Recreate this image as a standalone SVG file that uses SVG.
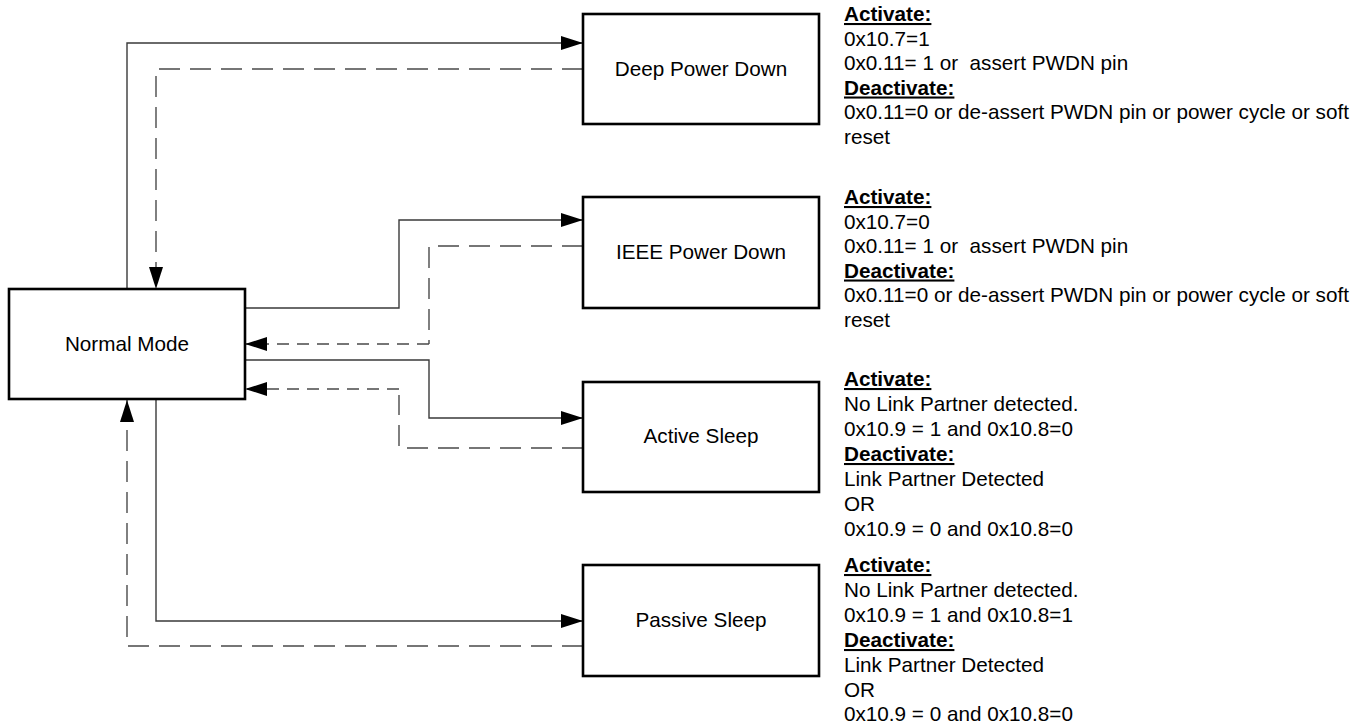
<svg xmlns="http://www.w3.org/2000/svg" width="1369" height="727" viewBox="0 0 1369 727">
  <style>
    .box { fill: #ffffff; stroke: #000000; stroke-width: 2.6; }
    .lbl { font-family: "Liberation Sans", Arial, sans-serif; font-size: 20.7px; fill: #000000; text-anchor: middle; }
    .note { font-family: "Liberation Sans", Arial, sans-serif; font-size: 20.7px; fill: #000000; }
    .hd { font-weight: bold; text-decoration: underline; }
    .solid { fill: none; stroke: #3a3a3a; stroke-width: 1.4; }
    .dash { fill: none; stroke: #4a4a4a; stroke-width: 1.4; stroke-dasharray: 21 10; }
    .dashs { fill: none; stroke: #4a4a4a; stroke-width: 1.4; stroke-dasharray: 12 8; }
  </style>
  <defs>
    <marker id="arr" markerUnits="userSpaceOnUse" markerWidth="22" markerHeight="14" refX="22" refY="7" orient="auto">
      <path d="M0,0 L22,7 L0,14 Z" fill="#000000"/>
    </marker>
  </defs>
  <rect width="1369" height="727" fill="#ffffff"/>

  <g id="connectors">
    <!-- Normal -> Deep Power Down -->
    <path class="solid" d="M127,289 V43 H583" marker-end="url(#arr)"/>
    <!-- Deep Power Down -> Normal -->
    <path class="dash" d="M583,69 H156 V289" marker-end="url(#arr)"/>
    <!-- Normal -> IEEE Power Down -->
    <path class="solid" d="M245,308 H399 V220 H583" marker-end="url(#arr)"/>
    <!-- IEEE Power Down -> Normal -->
    <path class="dash" d="M583,246 H429 V344"/>
    <path class="dashs" d="M429,344 H245" marker-end="url(#arr)"/>
    <!-- Normal -> Active Sleep -->
    <path class="solid" d="M245,360 H429 V418 H583" marker-end="url(#arr)"/>
    <!-- Active Sleep -> Normal -->
    <path class="dash" d="M583,448 H399 V395"/>
    <path class="dashs" d="M399,389 H245" marker-end="url(#arr)"/>
    <!-- Normal -> Passive Sleep -->
    <path class="solid" d="M156,400 V621 H583" marker-end="url(#arr)"/>
    <!-- Passive Sleep -> Normal -->
    <path class="dash" d="M583,646 H127 V400" marker-end="url(#arr)"/>
  </g>

  <g id="normal-mode">
    <rect class="box" x="9" y="289" width="236" height="110"/>
    <text class="lbl" x="127" y="351">Normal Mode</text>
  </g>
  <g id="deep-power-down">
    <rect class="box" x="583" y="14" width="236" height="110"/>
    <text class="lbl" x="701" y="76">Deep Power Down</text>
  </g>
  <g id="ieee-power-down">
    <rect class="box" x="583" y="197" width="236" height="111"/>
    <text class="lbl" x="701" y="259">IEEE Power Down</text>
  </g>
  <g id="active-sleep">
    <rect class="box" x="583" y="382" width="236" height="110"/>
    <text class="lbl" x="701" y="443">Active Sleep</text>
  </g>
  <g id="passive-sleep">
    <rect class="box" x="583" y="565" width="236" height="111"/>
    <text class="lbl" x="701" y="627">Passive Sleep</text>
  </g>

  <g id="deep-notes">
    <text class="note">
      <tspan class="hd" x="844" y="21">Activate:</tspan>
      <tspan x="844" y="45.5">0x10.7=1</tspan>
      <tspan x="844" y="70" xml:space="preserve">0x0.11= 1 or  assert PWDN pin</tspan>
      <tspan class="hd" x="844" y="94.5">Deactivate:</tspan>
      <tspan x="844" y="119">0x0.11=0 or de-assert PWDN pin or power cycle or soft</tspan>
      <tspan x="844" y="143.5">reset</tspan>
    </text>
  </g>
  <g id="ieee-notes">
    <text class="note">
      <tspan class="hd" x="844" y="204">Activate:</tspan>
      <tspan x="844" y="228.5">0x10.7=0</tspan>
      <tspan x="844" y="253" xml:space="preserve">0x0.11= 1 or  assert PWDN pin</tspan>
      <tspan class="hd" x="844" y="277.5">Deactivate:</tspan>
      <tspan x="844" y="302">0x0.11=0 or de-assert PWDN pin or power cycle or soft</tspan>
      <tspan x="844" y="326.5">reset</tspan>
    </text>
  </g>
  <g id="active-notes">
    <text class="note">
      <tspan class="hd" x="844" y="386">Activate:</tspan>
      <tspan x="844" y="411">No Link Partner detected.</tspan>
      <tspan x="844" y="436">0x10.9 = 1 and 0x10.8=0</tspan>
      <tspan class="hd" x="844" y="461">Deactivate:</tspan>
      <tspan x="844" y="486">Link Partner Detected</tspan>
      <tspan x="844" y="511">OR</tspan>
      <tspan x="844" y="536">0x10.9 = 0 and 0x10.8=0</tspan>
    </text>
  </g>
  <g id="passive-notes">
    <text class="note">
      <tspan class="hd" x="844" y="572">Activate:</tspan>
      <tspan x="844" y="597">No Link Partner detected.</tspan>
      <tspan x="844" y="622">0x10.9 = 1 and 0x10.8=1</tspan>
      <tspan class="hd" x="844" y="647">Deactivate:</tspan>
      <tspan x="844" y="672">Link Partner Detected</tspan>
      <tspan x="844" y="697">OR</tspan>
      <tspan x="844" y="721">0x10.9 = 0 and 0x10.8=0</tspan>
    </text>
  </g>
</svg>
